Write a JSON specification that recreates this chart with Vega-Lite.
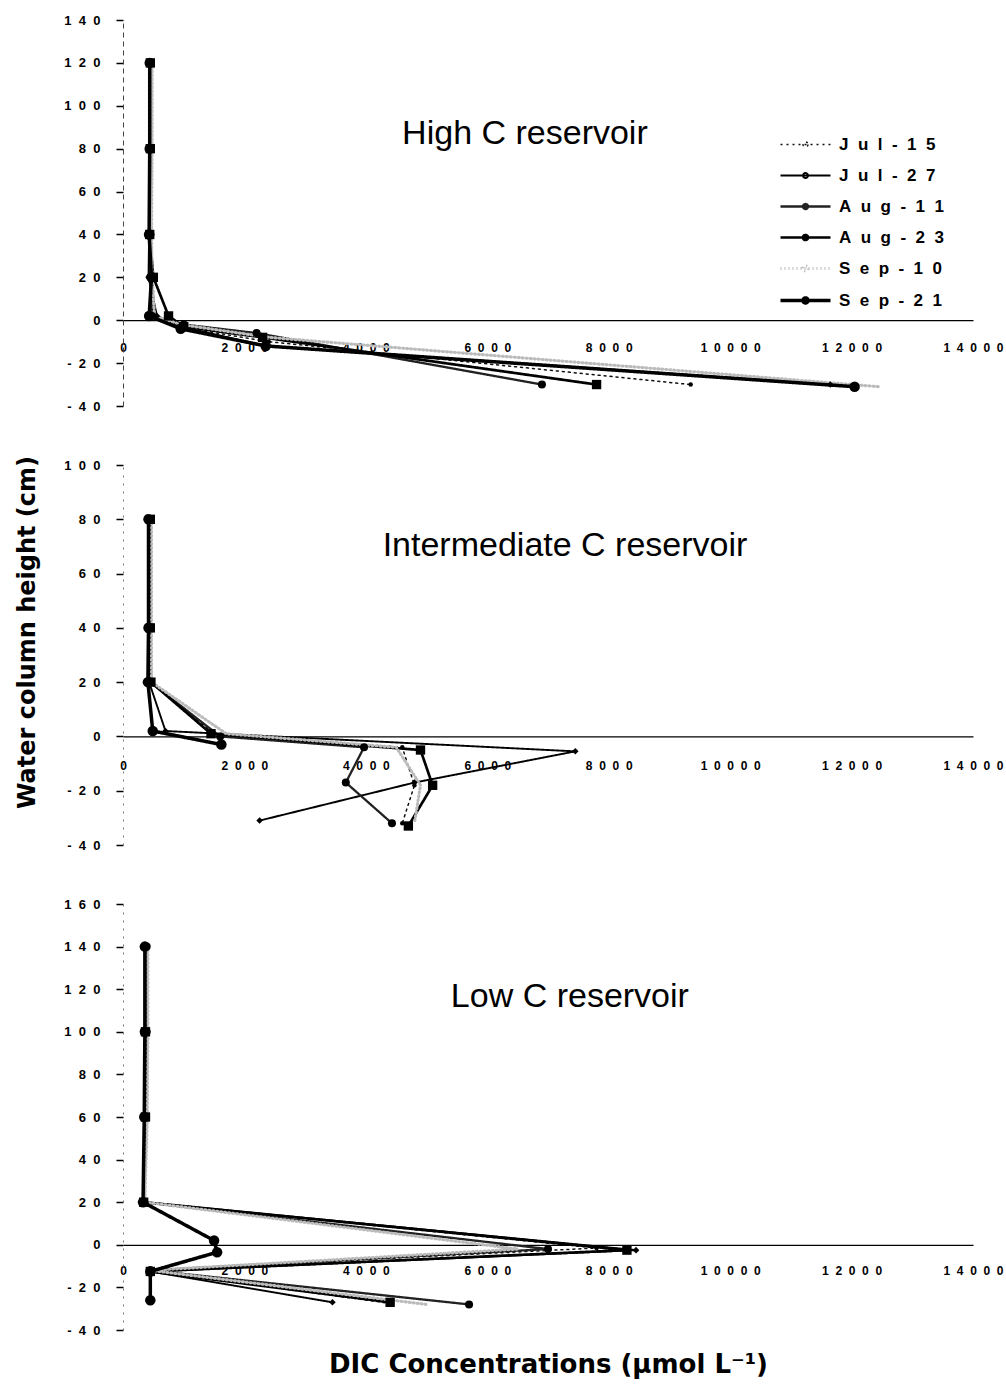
{
  "$schema": "https://vega.github.io/schema/vega-lite/v6.json",
  "background": "white",
  "padding": {"left": 14, "top": 14, "right": 5, "bottom": 5},
  "spacing": 59,
  "bounds": "flush",
  "config": {
    "font": "Liberation Sans",
    "view": {"stroke": null},
    "legend": {
      "labelFont": "Liberation Sans",
      "labelFontSize": 17,
      "labelFontWeight": "bold",
      "labelColor": "#000"
    }
  },
  "resolve": {
    "scale": {"color": "independent", "strokeDash": "independent", "strokeWidth": "independent", "shape": "independent", "size": "independent"},
    "legend": {"color": "independent", "strokeDash": "independent", "strokeWidth": "independent", "shape": "independent", "size": "independent"}
  },
  "datasets": {
    "dic": [
      {"panel": "High", "date": "Jul-15", "seq": 1, "dic": 460, "h": 120},
      {"panel": "High", "date": "Jul-15", "seq": 2, "dic": 460, "h": 80},
      {"panel": "High", "date": "Jul-15", "seq": 3, "dic": 450, "h": 40},
      {"panel": "High", "date": "Jul-15", "seq": 4, "dic": 490, "h": 20},
      {"panel": "High", "date": "Jul-15", "seq": 5, "dic": 520, "h": 2},
      {"panel": "High", "date": "Jul-15", "seq": 6, "dic": 900, "h": -3},
      {"panel": "High", "date": "Jul-15", "seq": 7, "dic": 2400, "h": -10},
      {"panel": "High", "date": "Jul-15", "seq": 8, "dic": 9350, "h": -30},
      {"panel": "High", "date": "Jul-27", "seq": 1, "dic": 440, "h": 120},
      {"panel": "High", "date": "Jul-27", "seq": 2, "dic": 440, "h": 80},
      {"panel": "High", "date": "Jul-27", "seq": 3, "dic": 430, "h": 40},
      {"panel": "High", "date": "Jul-27", "seq": 4, "dic": 420, "h": 20},
      {"panel": "High", "date": "Jul-27", "seq": 5, "dic": 560, "h": 2},
      {"panel": "High", "date": "Jul-27", "seq": 6, "dic": 950, "h": -3},
      {"panel": "High", "date": "Jul-27", "seq": 7, "dic": 2350, "h": -12},
      {"panel": "High", "date": "Jul-27", "seq": 8, "dic": 11650, "h": -30},
      {"panel": "High", "date": "Aug-11", "seq": 1, "dic": 460, "h": 120},
      {"panel": "High", "date": "Aug-11", "seq": 2, "dic": 460, "h": 80},
      {"panel": "High", "date": "Aug-11", "seq": 3, "dic": 450, "h": 40},
      {"panel": "High", "date": "Aug-11", "seq": 4, "dic": 450, "h": 20},
      {"panel": "High", "date": "Aug-11", "seq": 5, "dic": 480, "h": 2},
      {"panel": "High", "date": "Aug-11", "seq": 6, "dic": 1000, "h": -2},
      {"panel": "High", "date": "Aug-11", "seq": 7, "dic": 2200, "h": -6},
      {"panel": "High", "date": "Aug-11", "seq": 8, "dic": 6900, "h": -30},
      {"panel": "High", "date": "Aug-23", "seq": 1, "dic": 450, "h": 120},
      {"panel": "High", "date": "Aug-23", "seq": 2, "dic": 450, "h": 80},
      {"panel": "High", "date": "Aug-23", "seq": 3, "dic": 440, "h": 40},
      {"panel": "High", "date": "Aug-23", "seq": 4, "dic": 500, "h": 20},
      {"panel": "High", "date": "Aug-23", "seq": 5, "dic": 750, "h": 2},
      {"panel": "High", "date": "Aug-23", "seq": 6, "dic": 1000, "h": -3},
      {"panel": "High", "date": "Aug-23", "seq": 7, "dic": 2300, "h": -8},
      {"panel": "High", "date": "Aug-23", "seq": 8, "dic": 7800, "h": -30},
      {"panel": "High", "date": "Sep-10", "seq": 1, "dic": 480, "h": 120},
      {"panel": "High", "date": "Sep-10", "seq": 2, "dic": 480, "h": 80},
      {"panel": "High", "date": "Sep-10", "seq": 3, "dic": 470, "h": 40},
      {"panel": "High", "date": "Sep-10", "seq": 4, "dic": 480, "h": 20},
      {"panel": "High", "date": "Sep-10", "seq": 5, "dic": 520, "h": 2},
      {"panel": "High", "date": "Sep-10", "seq": 6, "dic": 950, "h": -2},
      {"panel": "High", "date": "Sep-10", "seq": 7, "dic": 2400, "h": -8},
      {"panel": "High", "date": "Sep-10", "seq": 8, "dic": 12450, "h": -31},
      {"panel": "High", "date": "Sep-21", "seq": 1, "dic": 440, "h": 120},
      {"panel": "High", "date": "Sep-21", "seq": 2, "dic": 440, "h": 80},
      {"panel": "High", "date": "Sep-21", "seq": 3, "dic": 430, "h": 40},
      {"panel": "High", "date": "Sep-21", "seq": 4, "dic": 470, "h": 20},
      {"panel": "High", "date": "Sep-21", "seq": 5, "dic": 430, "h": 2},
      {"panel": "High", "date": "Sep-21", "seq": 6, "dic": 950, "h": -4},
      {"panel": "High", "date": "Sep-21", "seq": 7, "dic": 2350, "h": -12},
      {"panel": "High", "date": "Sep-21", "seq": 8, "dic": 12050, "h": -31},

      {"panel": "Intermediate", "date": "Jul-15", "seq": 1, "dic": 460, "h": 80},
      {"panel": "Intermediate", "date": "Jul-15", "seq": 2, "dic": 460, "h": 40},
      {"panel": "Intermediate", "date": "Jul-15", "seq": 3, "dic": 460, "h": 20},
      {"panel": "Intermediate", "date": "Jul-15", "seq": 4, "dic": 1500, "h": 1},
      {"panel": "Intermediate", "date": "Jul-15", "seq": 5, "dic": 4600, "h": -4},
      {"panel": "Intermediate", "date": "Jul-15", "seq": 6, "dic": 4800, "h": -18},
      {"panel": "Intermediate", "date": "Jul-15", "seq": 7, "dic": 4600, "h": -32},
      {"panel": "Intermediate", "date": "Jul-27", "seq": 1, "dic": 440, "h": 80},
      {"panel": "Intermediate", "date": "Jul-27", "seq": 2, "dic": 440, "h": 40},
      {"panel": "Intermediate", "date": "Jul-27", "seq": 3, "dic": 430, "h": 20},
      {"panel": "Intermediate", "date": "Jul-27", "seq": 4, "dic": 700, "h": 2},
      {"panel": "Intermediate", "date": "Jul-27", "seq": 5, "dic": 7450, "h": -5.5},
      {"panel": "Intermediate", "date": "Jul-27", "seq": 6, "dic": 4800, "h": -17},
      {"panel": "Intermediate", "date": "Jul-27", "seq": 7, "dic": 2250, "h": -31},
      {"panel": "Intermediate", "date": "Aug-11", "seq": 1, "dic": 450, "h": 80},
      {"panel": "Intermediate", "date": "Aug-11", "seq": 2, "dic": 450, "h": 40},
      {"panel": "Intermediate", "date": "Aug-11", "seq": 3, "dic": 450, "h": 20},
      {"panel": "Intermediate", "date": "Aug-11", "seq": 4, "dic": 1600, "h": 0},
      {"panel": "Intermediate", "date": "Aug-11", "seq": 5, "dic": 3970, "h": -4},
      {"panel": "Intermediate", "date": "Aug-11", "seq": 6, "dic": 3670, "h": -17},
      {"panel": "Intermediate", "date": "Aug-11", "seq": 7, "dic": 4430, "h": -32},
      {"panel": "Intermediate", "date": "Aug-23", "seq": 1, "dic": 450, "h": 80},
      {"panel": "Intermediate", "date": "Aug-23", "seq": 2, "dic": 450, "h": 40},
      {"panel": "Intermediate", "date": "Aug-23", "seq": 3, "dic": 460, "h": 20},
      {"panel": "Intermediate", "date": "Aug-23", "seq": 4, "dic": 1450, "h": 1},
      {"panel": "Intermediate", "date": "Aug-23", "seq": 5, "dic": 4900, "h": -5},
      {"panel": "Intermediate", "date": "Aug-23", "seq": 6, "dic": 5100, "h": -18},
      {"panel": "Intermediate", "date": "Aug-23", "seq": 7, "dic": 4700, "h": -33},
      {"panel": "Intermediate", "date": "Sep-10", "seq": 1, "dic": 470, "h": 80},
      {"panel": "Intermediate", "date": "Sep-10", "seq": 2, "dic": 470, "h": 40},
      {"panel": "Intermediate", "date": "Sep-10", "seq": 3, "dic": 470, "h": 20},
      {"panel": "Intermediate", "date": "Sep-10", "seq": 4, "dic": 1700, "h": 1},
      {"panel": "Intermediate", "date": "Sep-10", "seq": 5, "dic": 4500, "h": -4},
      {"panel": "Intermediate", "date": "Sep-10", "seq": 6, "dic": 4900, "h": -18},
      {"panel": "Intermediate", "date": "Sep-10", "seq": 7, "dic": 4800, "h": -32},
      {"panel": "Intermediate", "date": "Sep-21", "seq": 1, "dic": 420, "h": 80},
      {"panel": "Intermediate", "date": "Sep-21", "seq": 2, "dic": 420, "h": 40},
      {"panel": "Intermediate", "date": "Sep-21", "seq": 3, "dic": 410, "h": 20},
      {"panel": "Intermediate", "date": "Sep-21", "seq": 4, "dic": 490, "h": 2},
      {"panel": "Intermediate", "date": "Sep-21", "seq": 5, "dic": 1620, "h": -3},

      {"panel": "Low", "date": "Jul-15", "seq": 1, "dic": 400, "h": 140},
      {"panel": "Low", "date": "Jul-15", "seq": 2, "dic": 400, "h": 100},
      {"panel": "Low", "date": "Jul-15", "seq": 3, "dic": 390, "h": 60},
      {"panel": "Low", "date": "Jul-15", "seq": 4, "dic": 350, "h": 20},
      {"panel": "Low", "date": "Jul-15", "seq": 5, "dic": 7800, "h": -1.5},
      {"panel": "Low", "date": "Jul-15", "seq": 6, "dic": 450, "h": -12},
      {"panel": "Low", "date": "Jul-15", "seq": 7, "dic": 4400, "h": -27.5},
      {"panel": "Low", "date": "Jul-27", "seq": 1, "dic": 380, "h": 100},
      {"panel": "Low", "date": "Jul-27", "seq": 2, "dic": 380, "h": 60},
      {"panel": "Low", "date": "Jul-27", "seq": 3, "dic": 340, "h": 20},
      {"panel": "Low", "date": "Jul-27", "seq": 4, "dic": 8450, "h": -2.5},
      {"panel": "Low", "date": "Jul-27", "seq": 5, "dic": 450, "h": -12.5},
      {"panel": "Low", "date": "Jul-27", "seq": 6, "dic": 3450, "h": -27},
      {"panel": "Low", "date": "Aug-11", "seq": 1, "dic": 390, "h": 140},
      {"panel": "Low", "date": "Aug-11", "seq": 2, "dic": 390, "h": 100},
      {"panel": "Low", "date": "Aug-11", "seq": 3, "dic": 380, "h": 60},
      {"panel": "Low", "date": "Aug-11", "seq": 4, "dic": 350, "h": 20},
      {"panel": "Low", "date": "Aug-11", "seq": 5, "dic": 7000, "h": -2},
      {"panel": "Low", "date": "Aug-11", "seq": 6, "dic": 450, "h": -12},
      {"panel": "Low", "date": "Aug-11", "seq": 7, "dic": 5700, "h": -28},
      {"panel": "Low", "date": "Aug-23", "seq": 1, "dic": 370, "h": 100},
      {"panel": "Low", "date": "Aug-23", "seq": 2, "dic": 370, "h": 60},
      {"panel": "Low", "date": "Aug-23", "seq": 3, "dic": 340, "h": 20},
      {"panel": "Low", "date": "Aug-23", "seq": 4, "dic": 8300, "h": -2.5},
      {"panel": "Low", "date": "Aug-23", "seq": 5, "dic": 450, "h": -12.5},
      {"panel": "Low", "date": "Aug-23", "seq": 6, "dic": 4400, "h": -27},
      {"panel": "Low", "date": "Sep-10", "seq": 1, "dic": 410, "h": 140},
      {"panel": "Low", "date": "Sep-10", "seq": 2, "dic": 410, "h": 100},
      {"panel": "Low", "date": "Sep-10", "seq": 3, "dic": 400, "h": 60},
      {"panel": "Low", "date": "Sep-10", "seq": 4, "dic": 360, "h": 20},
      {"panel": "Low", "date": "Sep-10", "seq": 5, "dic": 6500, "h": -2},
      {"panel": "Low", "date": "Sep-10", "seq": 6, "dic": 450, "h": -12},
      {"panel": "Low", "date": "Sep-10", "seq": 7, "dic": 5000, "h": -28},
      {"panel": "Low", "date": "Sep-21", "seq": 1, "dic": 360, "h": 140},
      {"panel": "Low", "date": "Sep-21", "seq": 2, "dic": 360, "h": 100},
      {"panel": "Low", "date": "Sep-21", "seq": 3, "dic": 350, "h": 60},
      {"panel": "Low", "date": "Sep-21", "seq": 4, "dic": 330, "h": 20},
      {"panel": "Low", "date": "Sep-21", "seq": 5, "dic": 1500, "h": 2},
      {"panel": "Low", "date": "Sep-21", "seq": 6, "dic": 1550, "h": -3.5},
      {"panel": "Low", "date": "Sep-21", "seq": 7, "dic": 450, "h": -12.5},
      {"panel": "Low", "date": "Sep-21", "seq": 8, "dic": 450, "h": -26}
    ]
  },
  "vconcat": [
    {
      "width": 850,
      "height": 386,
      "layer": [
        {
          "data": {"name": "dic"},
          "transform": [{"filter": "datum.panel === 'High'"}],
          "mark": {"type": "line", "strokeCap": "round", "strokeJoin": "round"},
          "encoding": {
            "x": {"field": "dic", "type": "quantitative", "scale": {"domain": [0, 14000], "nice": false, "zero": false},
              "axis": {"orient": "bottom", "offset": -85.8, "values": [0, 2000, 4000, 6000, 8000, 10000, 12000, 14000], "ticks": false, "grid": false, "domainColor": "#000", "domainWidth": 1.2, "labelExpr": "replace(toString(datum.value), regexp('(.)(?=.)', 'g'), '$1\u00a0\u00a0')", "labelFontSize": 12, "labelFontWeight": "bold", "labelColor": "#000", "labelPadding": 22, "labelFlush": false, "labelOverlap": false, "title": null}},
            "y": {"field": "h", "type": "quantitative", "scale": {"domain": [-40, 140], "nice": false, "zero": false},
              "axis": {"values": [-40, -20, 0, 20, 40, 60, 80, 100, 120, 140], "grid": false, "tickSize": 7, "tickWidth": 1.5, "tickColor": "#000", "domainDash": [5, 4], "domainColor": "#444", "domainWidth": 1, "labelExpr": "replace(toString(datum.value), regexp('(.)(?=.)', 'g'), '$1\u00a0\u00a0')", "labelFontSize": 13, "labelFontWeight": "bold", "labelColor": "#000", "labelPadding": 16, "labelOverlap": false, "title": null}},
            "order": {"field": "seq", "type": "quantitative"},
            "color": {"field": "date", "type": "nominal", "scale": {"domain": ["Jul-15", "Jul-27", "Aug-11", "Aug-23", "Sep-10", "Sep-21"], "range": ["#111111", "#000000", "#222222", "#000000", "#bbbbbb", "#000000"]},
              "legend": {"orient": "none", "legendX": 674, "legendY": 116, "title": null, "symbolType": "M-5,0L5,0M0.5,0A0.5,0.5,0,1,1,-0.5,0A0.5,0.5,0,1,1,0.5,0", "symbolSize": 100, "labelFontSize": 17, "labelFontWeight": "bold", "labelOffset": 25, "rowPadding": 13, "labelExpr": "replace(datum.label, regexp('(.)(?=.)', 'g'), '$1\u00a0\u00a0')"}},
            "strokeDash": {"field": "date", "type": "nominal", "scale": {"domain": ["Jul-15", "Jul-27", "Aug-11", "Aug-23", "Sep-10", "Sep-21"], "range": [[2, 4], [1, 0], [1, 0], [1, 0], [1, 3], [1, 0]]}},
            "strokeWidth": {"field": "date", "type": "nominal", "scale": {"domain": ["Jul-15", "Jul-27", "Aug-11", "Aug-23", "Sep-10", "Sep-21"], "range": [1.5, 3.5, 1.2, 2.5, 1, 3]}}
          }
        },
        {
          "data": {"name": "dic"},
          "transform": [{"filter": "datum.panel === 'High' && datum.date !== 'Sep-10'"}],
          "mark": {"type": "point", "filled": true, "opacity": 1, "color": "#000"},
          "encoding": {
            "x": {"field": "dic", "type": "quantitative"},
            "y": {"field": "h", "type": "quantitative"},
            "shape": {"field": "date", "type": "nominal", "legend": null, "scale": {"domain": ["Jul-15", "Jul-27", "Aug-11", "Aug-23", "Sep-21"], "range": ["circle", "diamond", "circle", "square", "circle"]}},
            "size": {"field": "date", "type": "nominal", "legend": null, "scale": {"domain": ["Jul-15", "Jul-27", "Aug-11", "Aug-23", "Sep-21"], "range": [20, 110, 12, 30, 90]}}
          }
        },
        {
          "data": {"values": [{}]},
          "mark": {"type": "text", "font": "Liberation Sans", "fontSize": 34, "align": "center", "baseline": "alphabetic", "color": "#000"},
          "encoding": {
            "x": {"datum": 6620, "type": "quantitative"},
            "y": {"datum": 82, "type": "quantitative"},
            "text": {"value": "High C reservoir"}
          }
        }
      ]
    },
    {
      "width": 850,
      "height": 380,
      "layer": [
        {
          "data": {"name": "dic"},
          "transform": [{"filter": "datum.panel === 'Intermediate'"}],
          "mark": {"type": "line", "strokeCap": "round", "strokeJoin": "round"},
          "encoding": {
            "x": {"field": "dic", "type": "quantitative", "scale": {"domain": [0, 14000], "nice": false, "zero": false},
              "axis": {"orient": "bottom", "offset": -108.6, "values": [0, 2000, 4000, 6000, 8000, 10000, 12000, 14000], "ticks": false, "grid": false, "domainColor": "#000", "domainWidth": 1.2, "labelExpr": "replace(toString(datum.value), regexp('(.)(?=.)', 'g'), '$1\u00a0\u00a0')", "labelFontSize": 12, "labelFontWeight": "bold", "labelColor": "#000", "labelPadding": 24, "labelFlush": false, "labelOverlap": false, "title": null}},
            "y": {"field": "h", "type": "quantitative", "scale": {"domain": [-40, 100], "nice": false, "zero": false},
              "axis": {"values": [-40, -20, 0, 20, 40, 60, 80, 100], "grid": false, "tickSize": 7, "tickWidth": 1.5, "tickColor": "#000", "domainDash": [2, 6], "domainColor": "#777", "domainWidth": 1, "labelExpr": "replace(toString(datum.value), regexp('(.)(?=.)', 'g'), '$1\u00a0\u00a0')", "labelFontSize": 13, "labelFontWeight": "bold", "labelColor": "#000", "labelPadding": 16, "labelOverlap": false,
                "title": "Water column height (cm)", "titleFont": "DejaVu Sans", "titleFontSize": 24, "titleFontWeight": "bold", "titleColor": "#000", "titleX": -84, "titleY": 167, "titleAngle": 270, "titleBaseline": "bottom"}},
            "order": {"field": "seq", "type": "quantitative"},
            "color": {"field": "date", "type": "nominal", "legend": null, "scale": {"domain": ["Jul-15", "Jul-27", "Aug-11", "Aug-23", "Sep-10", "Sep-21"], "range": ["#111111", "#000000", "#222222", "#000000", "#bbbbbb", "#000000"]}},
            "strokeDash": {"field": "date", "type": "nominal", "legend": null, "scale": {"domain": ["Jul-15", "Jul-27", "Aug-11", "Aug-23", "Sep-10", "Sep-21"], "range": [[2, 4], [1, 0], [1, 0], [1, 0], [1, 3], [1, 0]]}},
            "strokeWidth": {"field": "date", "type": "nominal", "legend": null, "scale": {"domain": ["Jul-15", "Jul-27", "Aug-11", "Aug-23", "Sep-10", "Sep-21"], "range": [1.5, 3.5, 1.2, 2.5, 1, 3]}}
          }
        },
        {
          "data": {"name": "dic"},
          "transform": [{"filter": "datum.panel === 'Intermediate' && datum.date !== 'Sep-10'"}],
          "mark": {"type": "point", "filled": true, "opacity": 1, "color": "#000"},
          "encoding": {
            "x": {"field": "dic", "type": "quantitative"},
            "y": {"field": "h", "type": "quantitative"},
            "shape": {"field": "date", "type": "nominal", "legend": null, "scale": {"domain": ["Jul-15", "Jul-27", "Aug-11", "Aug-23", "Sep-21"], "range": ["circle", "diamond", "circle", "square", "circle"]}},
            "size": {"field": "date", "type": "nominal", "legend": null, "scale": {"domain": ["Jul-15", "Jul-27", "Aug-11", "Aug-23", "Sep-21"], "range": [20, 110, 12, 30, 90]}}
          }
        },
        {
          "data": {"values": [{}]},
          "mark": {"type": "text", "font": "Liberation Sans", "fontSize": 34, "align": "center", "baseline": "alphabetic", "color": "#000"},
          "encoding": {
            "x": {"datum": 7280, "type": "quantitative"},
            "y": {"datum": 66.5, "type": "quantitative"},
            "text": {"value": "Intermediate C reservoir"}
          }
        }
      ]
    },
    {
      "width": 850,
      "height": 426,
      "layer": [
        {
          "data": {"name": "dic"},
          "transform": [{"filter": "datum.panel === 'Low'"}],
          "mark": {"type": "line", "strokeCap": "round", "strokeJoin": "round"},
          "encoding": {
            "x": {"field": "dic", "type": "quantitative", "scale": {"domain": [0, 14000], "nice": false, "zero": false},
              "axis": {"orient": "bottom", "offset": -85.2, "values": [0, 2000, 4000, 6000, 8000, 10000, 12000, 14000], "ticks": false, "grid": false, "domainColor": "#000", "domainWidth": 1.2, "labelExpr": "replace(toString(datum.value), regexp('(.)(?=.)', 'g'), '$1\u00a0\u00a0')", "labelFontSize": 12, "labelFontWeight": "bold", "labelColor": "#000", "labelPadding": 21, "labelFlush": false, "labelOverlap": false,
                "title": "DIC Concentrations (µmol L⁻¹)", "titleFont": "DejaVu Sans", "titleFontSize": 26, "titleFontWeight": "bold", "titleColor": "#000", "titleY": 128, "titleBaseline": "alphabetic"}},
            "y": {"field": "h", "type": "quantitative", "scale": {"domain": [-40, 160], "nice": false, "zero": false},
              "axis": {"values": [-40, -20, 0, 20, 40, 60, 80, 100, 120, 140, 160], "grid": false, "tickSize": 7, "tickWidth": 1.5, "tickColor": "#000", "domainDash": [2, 6], "domainColor": "#777", "domainWidth": 1, "labelExpr": "replace(toString(datum.value), regexp('(.)(?=.)', 'g'), '$1\u00a0\u00a0')", "labelFontSize": 13, "labelFontWeight": "bold", "labelColor": "#000", "labelPadding": 16, "labelOverlap": false, "title": null}},
            "order": {"field": "seq", "type": "quantitative"},
            "color": {"field": "date", "type": "nominal", "legend": null, "scale": {"domain": ["Jul-15", "Jul-27", "Aug-11", "Aug-23", "Sep-10", "Sep-21"], "range": ["#111111", "#000000", "#222222", "#000000", "#bbbbbb", "#000000"]}},
            "strokeDash": {"field": "date", "type": "nominal", "legend": null, "scale": {"domain": ["Jul-15", "Jul-27", "Aug-11", "Aug-23", "Sep-10", "Sep-21"], "range": [[2, 4], [1, 0], [1, 0], [1, 0], [1, 3], [1, 0]]}},
            "strokeWidth": {"field": "date", "type": "nominal", "legend": null, "scale": {"domain": ["Jul-15", "Jul-27", "Aug-11", "Aug-23", "Sep-10", "Sep-21"], "range": [1.5, 3.5, 1.2, 2.5, 1, 3]}}
          }
        },
        {
          "data": {"name": "dic"},
          "transform": [{"filter": "datum.panel === 'Low' && datum.date !== 'Sep-10'"}],
          "mark": {"type": "point", "filled": true, "opacity": 1, "color": "#000"},
          "encoding": {
            "x": {"field": "dic", "type": "quantitative"},
            "y": {"field": "h", "type": "quantitative"},
            "shape": {"field": "date", "type": "nominal", "legend": null, "scale": {"domain": ["Jul-15", "Jul-27", "Aug-11", "Aug-23", "Sep-21"], "range": ["circle", "diamond", "circle", "square", "circle"]}},
            "size": {"field": "date", "type": "nominal", "legend": null, "scale": {"domain": ["Jul-15", "Jul-27", "Aug-11", "Aug-23", "Sep-21"], "range": [20, 110, 12, 30, 90]}}
          }
        },
        {
          "data": {"values": [{}]},
          "mark": {"type": "text", "font": "Liberation Sans", "fontSize": 34, "align": "center", "baseline": "alphabetic", "color": "#000"},
          "encoding": {
            "x": {"datum": 7360, "type": "quantitative"},
            "y": {"datum": 111.6, "type": "quantitative"},
            "text": {"value": "Low C reservoir"}
          }
        }
      ]
    }
  ]
}
